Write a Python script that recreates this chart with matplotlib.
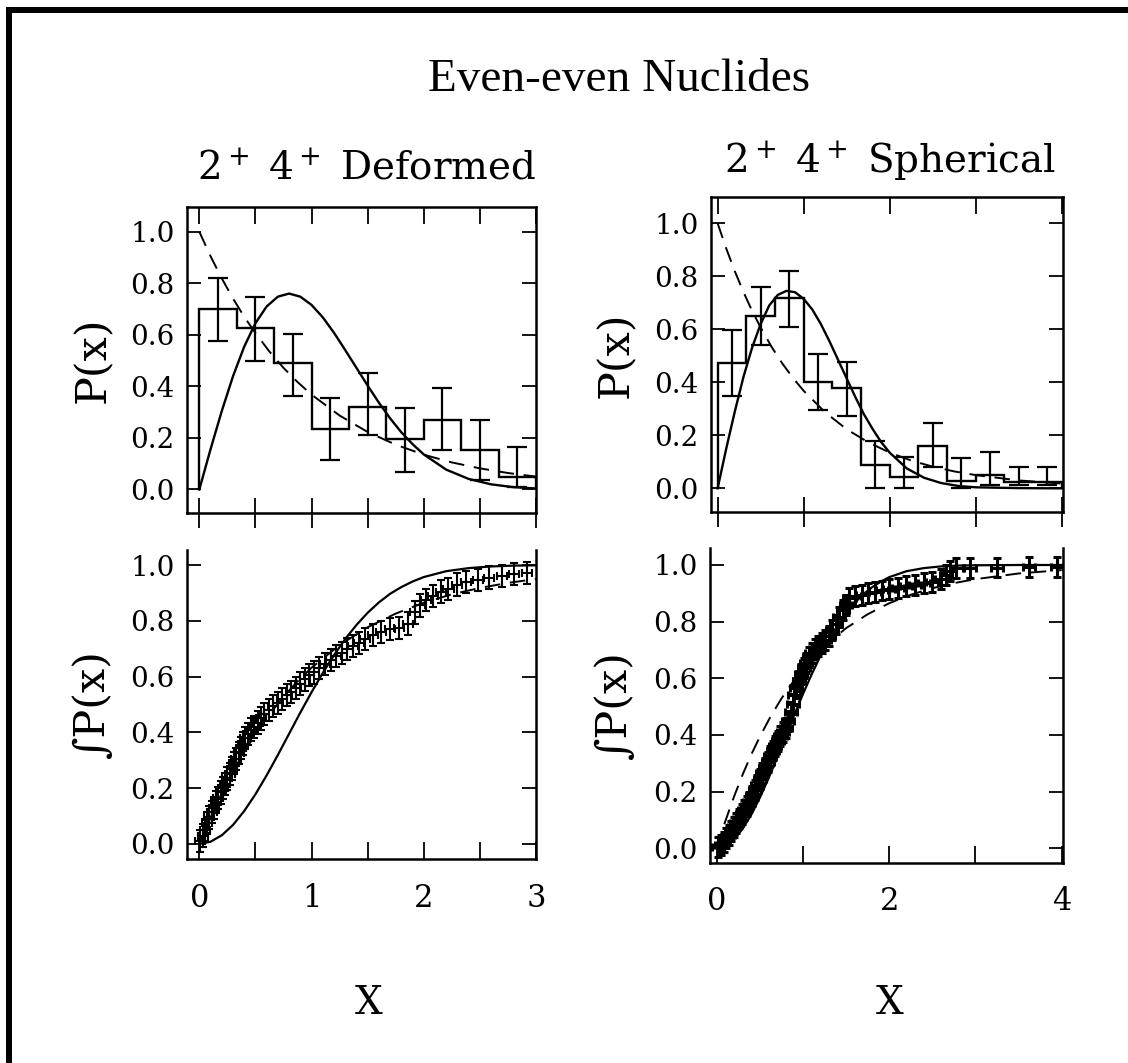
import matplotlib
matplotlib.use("Agg")
import matplotlib.pyplot as plt
from matplotlib.patches import Rectangle
import numpy as np

W, H = 1128, 1063

# ---- upper panels: histograms of P(x), bins of width 1/3 ----
def_edges = [0, 1/3, 2/3, 1, 4/3, 5/3, 2, 7/3, 8/3, 3]
def_hist = [0.70, 0.625, 0.49, 0.235, 0.32, 0.195, 0.27, 0.155, 0.05]
def_lo = [0.576, 0.50, 0.362, 0.114, 0.21, 0.069, 0.155, 0.036, 0.01]
def_hi = [0.82, 0.745, 0.605, 0.353, 0.45, 0.318, 0.392, 0.27, 0.166]

sph_edges = [0, 1/3, 2/3, 1, 4/3, 5/3, 2, 7/3, 8/3, 3, 10/3, 11/3, 4]
sph_hist = [0.474, 0.65, 0.717, 0.40, 0.38, 0.09, 0.044, 0.16, 0.028, 0.05, 0.025, 0.025]
sph_lo = [0.348, 0.541, 0.61, 0.296, 0.274, 0.0, 0.0, 0.082, 0.0, 0.013, 0.013, 0.013]
sph_hi = [0.597, 0.758, 0.82, 0.507, 0.478, 0.18, 0.12, 0.245, 0.113, 0.138, 0.08, 0.08]

# theory curves (solid: GOE-like, dashed: Poisson-like)
pdf_x = [0, 0.1, 0.2, 0.3, 0.4, 0.5, 0.6, 0.7, 0.8, 0.9, 1.0, 1.1, 1.2, 1.3, 1.4,
         1.5, 1.6, 1.7, 1.8, 1.9, 2.0, 2.2, 2.4, 2.6, 2.8, 3.0, 3.5, 4.0]
def_solid = [0, 0.156, 0.304, 0.439, 0.554, 0.645, 0.710, 0.748, 0.760, 0.748, 0.716,
             0.668, 0.608, 0.541, 0.472, 0.403, 0.337, 0.276, 0.222, 0.176, 0.136,
             0.077, 0.041, 0.020, 0.009, 0.004, 0.0004, 0.0]
sph_solid = [0, 0.15, 0.29, 0.42, 0.53, 0.62, 0.69, 0.73, 0.745, 0.74, 0.715,
             0.675, 0.62, 0.555, 0.485, 0.415, 0.345, 0.28, 0.225, 0.175, 0.135,
             0.075, 0.04, 0.02, 0.009, 0.004, 0.001, 0.0]
poi_x = [0, 0.1, 0.2, 0.3, 0.4, 0.5, 0.625, 0.75, 0.875, 1.0, 1.25, 1.5, 1.75, 2.0,
         2.25, 2.5, 2.75, 3.0, 3.5, 4.0]
poi_pdf = [1.0, 0.905, 0.819, 0.741, 0.670, 0.607, 0.535, 0.472, 0.417, 0.368,
           0.287, 0.223, 0.174, 0.135, 0.105, 0.082, 0.064, 0.050, 0.030, 0.018]

# ---- lower panels: cumulative distributions ----
cdf_solid = [0, 0.008, 0.031, 0.068, 0.118, 0.178, 0.246, 0.319, 0.395, 0.471, 0.544,
             0.613, 0.677, 0.735, 0.785, 0.829, 0.866, 0.897, 0.921, 0.941, 0.957,
             0.978, 0.989, 0.995, 0.998, 0.999, 1.0, 1.0]
poi_cdf = [0, 0.095, 0.181, 0.259, 0.330, 0.393, 0.465, 0.528, 0.583, 0.632, 0.713,
           0.777, 0.826, 0.865, 0.895, 0.918, 0.936, 0.950, 0.970, 0.982]

def_cum_x = [0.01, 0.03, 0.05, 0.07, 0.09, 0.11, 0.13, 0.15, 0.17, 0.19, 0.21, 0.23,
             0.25, 0.27, 0.29, 0.31, 0.33, 0.35, 0.37, 0.39, 0.41, 0.43, 0.46, 0.49,
             0.52, 0.55, 0.58, 0.62, 0.66, 0.70, 0.74, 0.78, 0.82, 0.86, 0.90, 0.94,
             0.98, 1.02, 1.07, 1.12, 1.17, 1.22, 1.27, 1.32, 1.37, 1.42, 1.48, 1.55,
             1.62, 1.70, 1.78, 1.86, 1.92, 1.97, 2.02, 2.08, 2.15, 2.22, 2.30, 2.38,
             2.48, 2.58, 2.70, 2.80, 2.92]
def_cum_y = [0.01, 0.03, 0.05, 0.075, 0.095, 0.115, 0.13, 0.15, 0.165, 0.185, 0.20,
             0.215, 0.235, 0.25, 0.27, 0.29, 0.305, 0.325, 0.345, 0.36, 0.38, 0.395,
             0.41, 0.42, 0.435, 0.45, 0.465, 0.48, 0.495, 0.505, 0.52, 0.535, 0.545,
             0.56, 0.575, 0.59, 0.605, 0.615, 0.63, 0.645, 0.66, 0.675, 0.685, 0.70,
             0.71, 0.72, 0.735, 0.75, 0.76, 0.77, 0.775, 0.79, 0.83, 0.855, 0.875,
             0.89, 0.905, 0.915, 0.93, 0.94, 0.946, 0.955, 0.962, 0.968, 0.972]

sph_cum_x = [0.02, 0.05, 0.08, 0.11, 0.14, 0.17, 0.20, 0.23, 0.26, 0.29, 0.32, 0.35,
             0.38, 0.41, 0.44, 0.47, 0.50, 0.53, 0.56, 0.59, 0.62, 0.65, 0.68, 0.71,
             0.74, 0.77, 0.80, 0.83, 0.86, 0.88, 0.90, 0.92, 0.95, 0.98, 1.01, 1.04,
             1.07, 1.10, 1.14, 1.18, 1.22, 1.26, 1.30, 1.34, 1.38, 1.42, 1.46, 1.50,
             1.54, 1.60, 1.68, 1.76, 1.84, 1.92, 2.00, 2.10, 2.20, 2.30, 2.40, 2.50,
             2.60, 2.66, 2.70, 2.78, 2.94, 3.25, 3.62, 3.95]
sph_cum_y = [0.005, 0.012, 0.022, 0.035, 0.048, 0.06, 0.075, 0.09, 0.105, 0.12, 0.135,
             0.15, 0.165, 0.185, 0.205, 0.225, 0.245, 0.265, 0.285, 0.305, 0.325,
             0.345, 0.36, 0.38, 0.395, 0.41, 0.425, 0.45, 0.48, 0.51, 0.54, 0.565,
             0.59, 0.615, 0.635, 0.655, 0.675, 0.69, 0.705, 0.715, 0.725, 0.735, 0.75,
             0.77, 0.79, 0.815, 0.84, 0.86, 0.885, 0.89, 0.895, 0.90, 0.905, 0.91,
             0.915, 0.92, 0.925, 0.93, 0.935, 0.94, 0.95, 0.965, 0.98, 0.988, 0.99,
             0.991, 0.992, 0.993]
def_cum_xerr, def_cum_yerr = 0.045, 0.04
sph_cum_xerr, sph_cum_yerr = 0.07, 0.035

SERIF = ["DejaVu Serif", "DejaVu Sans"]
plt.rcParams["font.family"] = SERIF
plt.rcParams["mathtext.fontset"] = "dejavuserif"

fig = plt.figure(figsize=(W / 100, H / 100), dpi=100)


def px_axes(l, t, r, b):
    return fig.add_axes([l / W, 1 - b / H, (r - l) / W, (b - t) / H])


def style(ax, xlim, ylim, xticks, xlabels, top_spine=True, inout_bottom=False):
    ax.set_xlim(*xlim)
    ax.set_ylim(*ylim)
    for s in ax.spines.values():
        s.set_linewidth(1.8)
    ax.spines["top"].set_visible(top_spine)
    ax.set_yticks([0, 0.2, 0.4, 0.6, 0.8, 1.0],
                  ["0.0", "0.2", "0.4", "0.6", "0.8", "1.0"])
    ax.set_xticks(xticks, xlabels)
    ax.tick_params(axis="y", direction="in", left=True, right=True, length=10,
                   width=1.3, labelsize=20, pad=9)
    ax.tick_params(axis="x", direction="in", bottom=True, top=top_spine, length=12,
                   width=1.3, labelsize=22, pad=17)
    if inout_bottom:
        for t in ax.xaxis.get_major_ticks():
            t.tick1line.set_marker("|")
            t.tick1line.set_markersize(22)


def hist_panel(ax, edges, hist, lo, hi, solid):
    edges = np.asarray(edges)
    hist = np.asarray(hist)
    centers = 0.5 * (edges[:-1] + edges[1:])
    yerr = [hist - np.asarray(lo), np.asarray(hi) - hist]
    ax.stairs(hist, edges, baseline=0, color="k", lw=1.7)
    ax.errorbar(centers, hist, yerr=yerr, fmt="none", ecolor="k", elinewidth=1.6,
                capsize=7, capthick=1.6)
    ax.plot(pdf_x, solid, color="k", lw=1.7)
    ax.plot(poi_x, poi_pdf, color="k", lw=1.4, dashes=(8, 5))


def cum_panel(ax, cx, cy, xerr, yerr, lw):
    ax.errorbar(cx, cy, xerr=xerr, yerr=yerr, fmt="none", ecolor="k",
                elinewidth=lw, capsize=3, capthick=lw)
    ax.plot(pdf_x, cdf_solid, color="k", lw=1.6)
    ax.plot(poi_x, poi_cdf, color="k", lw=1.4, dashes=(8, 5))


# upper left: deformed P(x)
ax = px_axes(187.3, 206.7, 536, 512.7)
hist_panel(ax, def_edges, def_hist, def_lo, def_hi, def_solid)
style(ax, (-0.107, 3.0), (-0.09, 1.097), [0, 0.5, 1, 1.5, 2, 2.5, 3], [""] * 7,
      inout_bottom=True)
ax.set_ylabel("P(x)", fontsize=31, va="center")
ax.yaxis.set_label_coords(-0.27, 0.5)

# upper right: spherical P(x)
ax = px_axes(711, 197.3, 1063, 511.7)
hist_panel(ax, sph_edges, sph_hist, sph_lo, sph_hi, sph_solid)
style(ax, (-0.077, 4.015), (-0.088, 1.098), [0, 1, 2, 3, 4], [""] * 5,
      inout_bottom=True)
ax.set_ylabel("P(x)", fontsize=31, va="center")
ax.yaxis.set_label_coords(-0.27, 0.5)

# lower left: deformed cumulative
ax = px_axes(187.3, 550, 536, 859)
cum_panel(ax, def_cum_x, def_cum_y, def_cum_xerr, def_cum_yerr, 1.5)
style(ax, (-0.107, 3.0), (-0.054, 1.054), [0, 0.5, 1, 1.5, 2, 2.5, 3],
      ["0", "", "1", "", "2", "", "3"], top_spine=False)
ax.set_ylabel("\u222bP(x)", fontsize=31, va="center")
ax.yaxis.set_label_coords(-0.273, 0.5)

# lower right: spherical cumulative
ax = px_axes(710, 548, 1063, 862.7)
cum_panel(ax, sph_cum_x, sph_cum_y, sph_cum_xerr, sph_cum_yerr, 2.2)
style(ax, (-0.077, 4.015), (-0.051, 1.06), [0, 1, 2, 3, 4],
      ["0", "", "2", "", "4"], top_spine=False)
ax.set_ylabel("\u222bP(x)", fontsize=31, va="center")
ax.yaxis.set_label_coords(-0.272, 0.5)

# titles and axis names
fig.text(619 / W, 1 - 80 / H, "Even-even Nuclides", fontsize=34,
         family=["Liberation Serif", "DejaVu Serif"], ha="center", va="center")
fig.text(367 / W, 1 - 179 / H, r"$2^+$ $4^+$ Deformed", fontsize=28,
         ha="center", va="baseline")
fig.text(890 / W, 1 - 173 / H, r"$2^+$ $4^+$ Spherical", fontsize=28,
         ha="center", va="baseline")
fig.text(369 / W, 1 - 1003 / H, "X", fontsize=28, ha="center", va="center")
fig.text(890 / W, 1 - 1003 / H, "X", fontsize=28, ha="center", va="center")

# scan frame: heavy rules along the top and left edges
fig.add_artist(Rectangle((6 / W, 0), 6 / W, 1 - 7 / H, transform=fig.transFigure,
                         color="k", lw=0))
fig.add_artist(Rectangle((6 / W, 1 - 13 / H), 1 - 6 / W, 6 / H,
                         transform=fig.transFigure, color="k", lw=0))

fig.savefig("out.png", dpi=100)
